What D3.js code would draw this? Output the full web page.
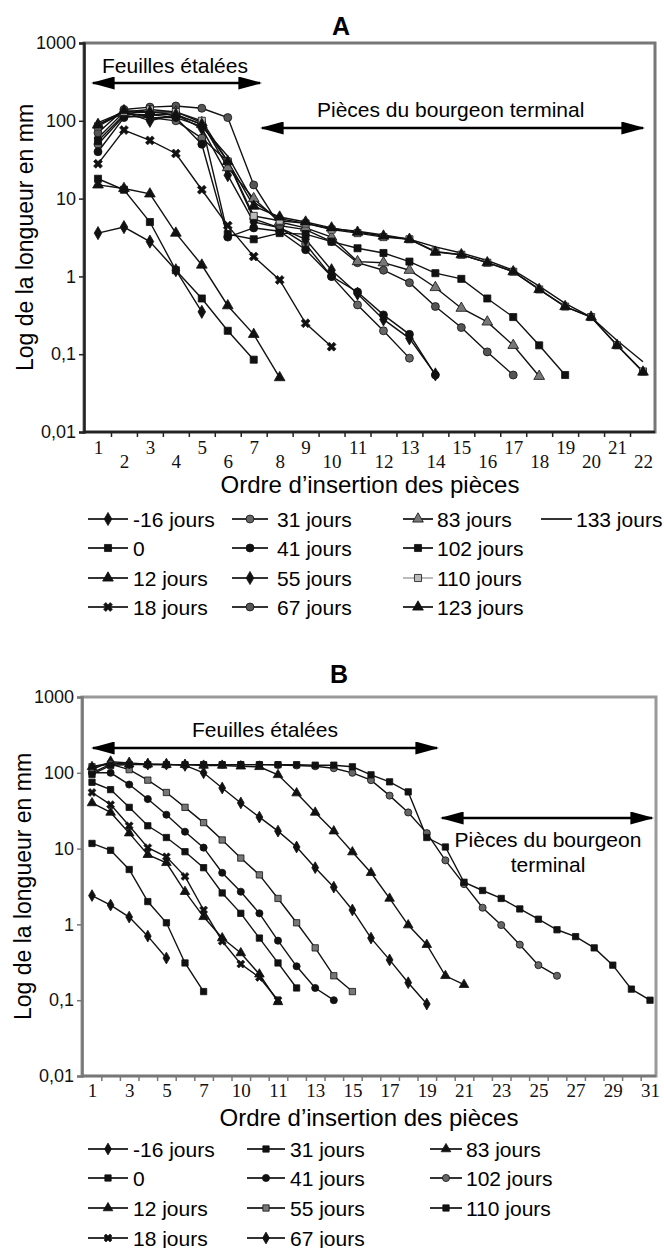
<!DOCTYPE html>
<html><head><meta charset="utf-8">
<script src="https://cdn.jsdelivr.net/npm/d3@7"></script>
<style>html,body{margin:0;padding:0;background:#fff;}svg{display:block;}</style>
</head><body>
<svg id="chart" width="664" height="1248"></svg>
<script>
// ---------- Data: panel A ----------
const namesA = ["-16 jours","0","12 jours","18 jours","31 jours","41 jours","55 jours","67 jours","83 jours","102 jours","110 jours","123 jours","133 jours"];
const xTickLabelsA = ["1","2","3","4","5","6","7","8","9","10","11","12","13","14","15","16","17","18","19","20","21","22"];
const yTickValues = [0.01, 0.1, 1, 10, 100, 1000];
const yTickLabels = ["0,01","0,1","1","10","100","1000"];
const a_m16 = [3.6, 4.3, 2.8, 1.2, 0.35];
const a_0   = [18, 13, 5.0, 1.2, 0.52, 0.2, 0.085];
const a_12  = [15, 13.5, 11.5, 3.6, 1.4, 0.42, 0.18, 0.05];
const a_18  = [28, 76, 56, 38, 13, 4.5, 1.8, 0.9, 0.25, 0.125];
const a_31  = [50, 115, 110, 100, 60, 30, 5.5, 4.2, 2.6, 1.0, 0.43, 0.2, 0.089];
const a_41  = [40, 110, 120, 110, 50, 3.2, 4.2, 3.8, 2.2, 1.0, 0.63, 0.32, 0.18, 0.054];
const a_55  = [60, 130, 100, 120, 80, 20, 5.0, 4.2, 3.0, 1.2, 0.6, 0.28, 0.16, 0.055];
const a_67  = [70, 140, 150, 155, 145, 110, 15, 4.5, 4.0, 2.8, 1.5, 1.2, 0.83, 0.41, 0.22, 0.107, 0.054];
const a_83  = [90, 125, 130, 130, 95, 25, 10, 5.0, 4.2, 3.2, 1.55, 1.5, 1.2, 0.72, 0.39, 0.26, 0.13, 0.052];
const a_102 = [55, 120, 120, 120, 90, 3.5, 3.0, 3.6, 3.5, 2.8, 2.3, 2.0, 1.55, 1.1, 0.93, 0.52, 0.3, 0.13, 0.054];
const a_110 = [85, 130, 140, 130, 100, 30, 6, 5.2, 4.8, 4.0, 3.6, 3.2, 3.0, 2.1, 1.9, 1.5, 1.15, 0.68, 0.41, 0.3, 0.13, 0.06];
const a_123 = [88, 135, 130, 120, 90, 30, 8, 5.8, 5.0, 4.2, 3.7, 3.3, 3.0, 2.05, 1.9, 1.5, 1.15, 0.68, 0.41, 0.3, 0.13, 0.059];
const a_133 = [95, 130, 110, 110, 85, 35, 9, 5.5, 4.8, 4.1, 3.8, 3.4, 3.0, 2.4, 2.0, 1.6, 1.2, 0.75, 0.45, 0.3, 0.15, 0.08];
const valuesA = [a_m16, a_0, a_12, a_18, a_31, a_41, a_55, a_67, a_83, a_102, a_110, a_123, a_133];
const markersA = ["diamond","square","triangle","x","circle","circle","diamond","circle","triangle","square","square","triangle","none"];
const colorsA = ["#111","#111","#111","#111","#666","#111","#111","#555","#777","#111","#bbb","#111","#111"];

// ---------- Data: panel B ----------
const namesB = ["-16 jours","0","12 jours","18 jours","31 jours","41 jours","55 jours","67 jours","83 jours","102 jours","110 jours"];
const xTickLabelsB = ["1","3","5","7","10","11","13","15","17","19","21","23","25","27","29","31"];
const b_m16 = [2.4, 1.8, 1.25, 0.7, 0.36];
const b_0   = [11.7, 9.5, 5.3, 2.0, 1.05, 0.31, 0.13];
const b_12  = [40, 30, 16, 8.3, 6.5, 2.7, 1.26, 0.66, 0.42, 0.22, 0.095];
const b_18  = [55, 38, 20, 10.3, 7.8, 4.3, 1.55, 0.6, 0.3, 0.2, 0.1];
const b_31  = [75, 60, 35, 20, 14, 9.1, 5.6, 2.6, 1.4, 0.66, 0.31, 0.145];
const b_41  = [100, 100, 70, 45, 28, 16.7, 10.3, 4.8, 2.7, 1.4, 0.61, 0.28, 0.145, 0.1];
const b_55  = [120, 130, 110, 80, 55, 35, 22, 13, 7.5, 4.5, 2.2, 1.05, 0.49, 0.21, 0.13];
const b_67  = [110, 140, 135, 130, 130, 125, 100, 63, 40, 26, 17, 10.5, 5.6, 3.1, 1.55, 0.66, 0.34, 0.17, 0.089];
const b_83  = [120, 135, 130, 130, 128, 128, 125, 125, 122, 120, 94, 54, 30, 17, 9, 4.8, 2.2, 0.98, 0.54, 0.21, 0.16];
const b_102 = [100, 130, 130, 128, 128, 128, 128, 128, 128, 128, 127, 125, 122, 115, 100, 80, 50, 30, 16, 7, 3.4, 1.66, 0.98, 0.54, 0.29, 0.21];
const b_110 = [95, 125, 128, 128, 128, 128, 128, 128, 128, 128, 128, 128, 126, 126, 120, 94, 76, 56, 14, 10.5, 3.6, 2.8, 2.2, 1.6, 1.17, 0.85, 0.69, 0.49, 0.29, 0.14, 0.1];
const valuesB = [b_m16, b_0, b_12, b_18, b_31, b_41, b_55, b_67, b_83, b_102, b_110];
const markersB = ["diamond","square","triangle","x","square","circle","square","diamond","triangle","circle","square"];
const colorsB = ["#111","#111","#111","#111","#111","#111","#777","#111","#111","#666","#111"];

// ---------- Drawing ----------
const svg = d3.select("#chart");
svg.append("rect").attr("width",664).attr("height",1248).attr("fill","#fff");
const SANS = "'Liberation Sans', Arial, sans-serif";
const SERIF = "'Liberation Serif', 'Times New Roman', serif";

const defs = svg.append("defs");
defs.append("marker").attr("id","arrowhead")
  .attr("viewBox","0 0 10 10").attr("refX",9).attr("refY",5)
  .attr("markerUnits","userSpaceOnUse").attr("markerWidth",24).attr("markerHeight",13)
  .attr("orient","auto-start-reverse").attr("preserveAspectRatio","none")
  .append("path").attr("d","M0,0 L10,5 L0,10 Z").attr("fill","#000");

const symbolMap = {diamond: d3.symbolDiamond, square: d3.symbolSquare, triangle: d3.symbolTriangle, circle: d3.symbolCircle, x: d3.symbolCross};
function drawMarker(g, type, cx, cy, color, size) {
  if (type === "none") return;
  const s = d3.symbol().type(symbolMap[type]).size(size)();
  g.append("path").attr("d", s)
    .attr("transform", `translate(${cx},${cy})` + (type === "x" ? " rotate(45)" : ""))
    .attr("fill", color).attr("stroke", "#111").attr("stroke-width", type === "x" ? 0.6 : 0.8);
}

function panel(cfg) {
  const g = svg.append("g");
  const x = d3.scaleLinear().domain([1, cfg.nCat]).range(cfg.xRange);
  const y = d3.scaleLog().domain([0.01, 1000]).range([cfg.frame.bottom, cfg.frame.top]);
  g.append("text").attr("x", cfg.titleX).attr("y", cfg.titleY).attr("text-anchor","middle")
    .attr("font-family", SANS).attr("font-weight","bold").attr("font-size",25).text(cfg.title);
  g.append("rect").attr("x", cfg.frame.left).attr("y", cfg.frame.top)
    .attr("width", cfg.frame.right - cfg.frame.left).attr("height", cfg.frame.bottom - cfg.frame.top)
    .attr("fill","none").attr("stroke", cfg.frameColor).attr("stroke-width", 3);
  const yAxis = d3.axisLeft(y).tickValues(yTickValues).tickFormat((d,i) => yTickLabels[i]).tickSize(5).tickPadding(3);
  const ya = g.append("g").attr("transform", `translate(${cfg.frame.left},0)`).call(yAxis);
  ya.select(".domain").attr("stroke", cfg.axisColor).attr("stroke-width", 2.5);
  ya.selectAll(".tick line").attr("stroke", cfg.axisColor).attr("stroke-width", 1.5);
  ya.selectAll(".tick text").attr("font-family", SANS).attr("font-size", 18).attr("fill","#111");
  const bounds = d3.range(1.5, cfg.nCat, 1);
  const xTicks = d3.axisBottom(x).tickValues(bounds).tickFormat("").tickSize(5).tickSizeOuter(0);
  const xa = g.append("g").attr("transform", `translate(0,${cfg.frame.bottom})`).call(xTicks);
  xa.select(".domain").remove();
  xa.selectAll(".tick line").attr("stroke", cfg.axisColor).attr("stroke-width", 1.5);
  g.append("line").attr("x1", cfg.frame.left).attr("x2", cfg.frame.right)
    .attr("y1", cfg.frame.bottom).attr("y2", cfg.frame.bottom).attr("stroke", cfg.axisColor).attr("stroke-width", 2.5);
  const xl = d3.axisBottom(x).tickValues(cfg.xLabelPos).tickFormat((d,i) => cfg.xLabels[i]).tickSize(0).tickPadding(0);
  const xlg = g.append("g").attr("transform", `translate(0,${cfg.frame.bottom})`).call(xl);
  xlg.select(".domain").remove();
  xlg.selectAll(".tick text").attr("font-family", SERIF).attr("font-size", 19).attr("fill","#111")
    .attr("dy", null).attr("y", (d,i) => cfg.stagger ? (i % 2 === 0 ? 22 : 36) : 21);
  g.append("text").attr("x", cfg.xTitleX).attr("y", cfg.xTitleY).attr("text-anchor","middle")
    .attr("font-family", SANS).attr("font-size", 24).text("Ordre d\u2019insertion des pi\u00e8ces");
  g.append("text").attr("transform", `translate(${cfg.yTitleX},${(cfg.frame.top+cfg.frame.bottom)/2}) rotate(-90)`)
    .attr("text-anchor","middle").attr("font-family", SANS).attr("font-size", 23).text("Log de la longueur en mm");
  const line = d3.line().x((d,i) => x(i+1)).y(d => y(d));
  cfg.values.forEach((vals, si) => {
    g.append("path").attr("d", line(vals)).attr("fill","none").attr("stroke", "#111").attr("stroke-width", 1.4);
  });
  cfg.values.forEach((vals, si) => {
    vals.forEach((v, i) => drawMarker(g, cfg.markers[si], x(i+1), y(v), cfg.colors[si], cfg.markerSize));
  });
  cfg.annotations.forEach(a => {
    if (a.type === "text") {
      g.append("text").attr("x", a.x).attr("y", a.y).attr("text-anchor", a.anchor || "middle")
        .attr("font-family", SANS).attr("font-size", 21).text(a.text);
    } else {
      g.append("line").attr("x1", a.x1).attr("x2", a.x2).attr("y1", a.y).attr("y2", a.y)
        .attr("stroke","#000").attr("stroke-width", 2.5)
        .attr("marker-start","url(#arrowhead)").attr("marker-end","url(#arrowhead)");
    }
  });
  cfg.names.forEach((name, si) => {
    const col = Math.floor(si / 4), row = si % 4;
    const c = cfg.legendCols[col];
    const cy = cfg.legendRows[row];
    g.append("line").attr("x1", c[0]).attr("x2", c[1]).attr("y1", cy).attr("y2", cy)
      .attr("stroke", cfg.colors[si] === "#bbb" ? "#bbb" : "#333").attr("stroke-width", 2);
    drawMarker(g, cfg.markers[si], (c[0]+c[1])/2, cy, cfg.colors[si], cfg.markerSize);
    g.append("text").attr("x", c[2]).attr("y", cy + 7.5).attr("font-family", SANS).attr("font-size", 21).text(name);
  });
}

panel({
  title: "A", titleX: 341, titleY: 35,
  frame: {left: 84, right: 655, top: 43, bottom: 432},
  frameColor: "#777", axisColor: "#222",
  nCat: 22, xRange: [98, 643],
  xLabelPos: d3.range(1, 23), xLabels: xTickLabelsA, stagger: true,
  xTitleX: 370, xTitleY: 493, yTitleX: 33,
  values: valuesA, markers: markersA, colors: colorsA, names: namesA, markerSize: 50,
  annotations: [
    {type:"text", x:175, y:73, text:"Feuilles \u00e9tal\u00e9es"},
    {type:"arrow", x1:93, x2:260, y:83},
    {type:"text", x:317, y:117, anchor:"start", text:"Pi\u00e8ces du bourgeon terminal"},
    {type:"arrow", x1:262, x2:643, y:128}
  ],
  legendCols: [[88,128,133],[232,268,277],[403,433,437],[541,572,576]],
  legendRows: [519, 548, 578, 607]
});

panel({
  title: "B", titleX: 339, titleY: 683,
  frame: {left: 82, right: 656, top: 697, bottom: 1076},
  frameColor: "#999", axisColor: "#777",
  nCat: 31, xRange: [92, 650],
  xLabelPos: d3.range(1, 32, 2), xLabels: xTickLabelsB, stagger: false,
  xTitleX: 369, xTitleY: 1126, yTitleX: 31,
  values: valuesB, markers: markersB, colors: colorsB, names: namesB, markerSize: 40,
  annotations: [
    {type:"text", x:265, y:737, text:"Feuilles \u00e9tal\u00e9es"},
    {type:"arrow", x1:93, x2:437, y:748},
    {type:"arrow", x1:442, x2:652, y:818},
    {type:"text", x:548, y:847, text:"Pi\u00e8ces du bourgeon"},
    {type:"text", x:548, y:872, text:"terminal"}
  ],
  legendCols: [[88,128,133],[247,285,290],[430,462,466]],
  legendRows: [1149, 1178, 1208, 1238]
});
</script>
</body></html>
